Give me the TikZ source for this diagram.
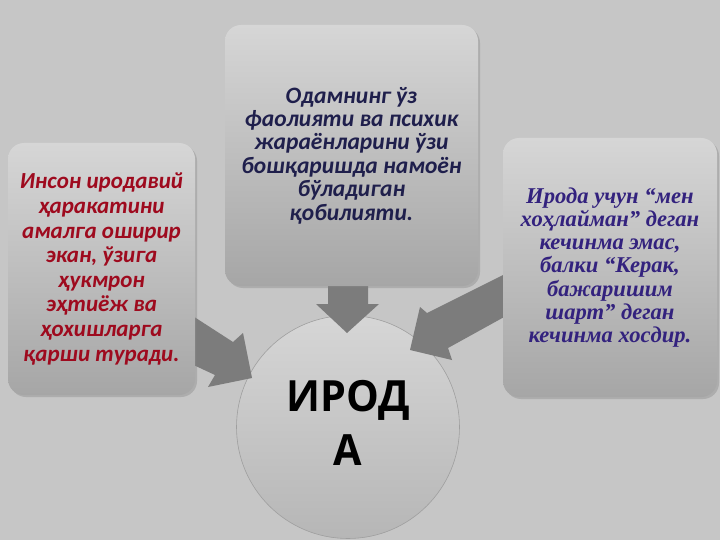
\documentclass[tikz,border=0pt]{standalone}
\usepackage{fontspec}
\setmainfont{Carlito}
\newfontfamily\serifbi{Liberation Serif}
\newfontfamily\circfont{Open Sans}
\usetikzlibrary{shadows,shapes.geometric}
\definecolor{bgcol}{HTML}{C6C6C6}
\definecolor{boxtop}{HTML}{D6D6D6}
\definecolor{boxbot}{HTML}{A6A6A6}
\definecolor{circtop}{HTML}{D6D6D6}
\definecolor{circbot}{HTML}{B6B6B6}
\definecolor{arrcol}{HTML}{7C7C7C}
\definecolor{redtxt}{HTML}{9E0A1E}
\definecolor{navytxt}{HTML}{1F1F4C}
\definecolor{purptxt}{HTML}{33227E}
\tikzset{
  card/.style={rounded corners=16pt, top color=boxtop, bottom color=boxbot,
    draw=none, drop shadow={shadow xshift=2pt,shadow yshift=-2pt,opacity=0.35},
    inner sep=0pt, align=center},
  blockarrow/.style={fill=arrcol, draw=none},
}
\begin{document}
\begin{tikzpicture}[x=1pt,y=-1pt]
\useasboundingbox (0,0) rectangle (720,540);
\fill[bgcol] (0,0) rectangle (720,540);
% central circle
\node[circle, draw=gray!75, line width=0.6pt, inner sep=0pt, minimum size=223pt,
      top color=circtop, bottom color=circbot] (irod) at (348,427) {};
\node[align=center, inner sep=0pt,
      font=\circfont\bfseries\fontsize{43}{54}\selectfont] (irodtxt) at ([yshift=4pt]irod.center)
  {\scalebox{0.96}[1]{ИРОД}\\\scalebox{0.96}[1]{А}};
% arrows
\coordinate (la1) at (185,311);
\coordinate (la2) at (185,361);
\fill[blockarrow] (la1) -- (233,342) -- (243,333) -- (252,378) -- (208,387) -- (215,375) -- (la2) -- cycle;
\fill[blockarrow] (328,280) -- (368,280) -- (368,304) -- (379,304) -- (347,333) -- (316,304) -- (328,304) -- cycle;
\fill[blockarrow] (515,269) -- (427,313) -- (420,307) -- (410,350) -- (452,360) -- (448,348) -- (515,311) -- cycle;
% boxes
\node[card, minimum width=187pt, minimum height=252pt,
      text=redtxt, font=\bfseries\itshape\fontsize{23}{24.6}\selectfont] (lbox) at (101.5,269)
  {Инсон иродавий\\ҳаракатини\\амалга оширир\\экан, ўзига\\ҳукмрон\\эҳтиёж ва\\ҳохишларга\\қарши туради.};
\node[card, minimum width=253pt, minimum height=261pt,
      text=navytxt, font=\bfseries\itshape\fontsize{23.5}{23.4}\selectfont] (mbox) at (351.5,155.5)
  {Одамнинг ўз\\фаолияти ва психик\\жараёнларини ўзи\\бошқаришда намоён\\бўладиган\\қобилияти.};
\node[card, minimum width=214pt, minimum height=259pt,
      text=purptxt, font=\serifbi\bfseries\itshape\fontsize{22.6}{23.3}\selectfont] (rbox) at (610,267.5)
  {Ирода учун “мен\\хоҳлайман” деган\\кечинма эмас,\\балки “Керак,\\бажаришим\\шарт” деган\\кечинма хосдир.};
\end{tikzpicture}
\end{document}
